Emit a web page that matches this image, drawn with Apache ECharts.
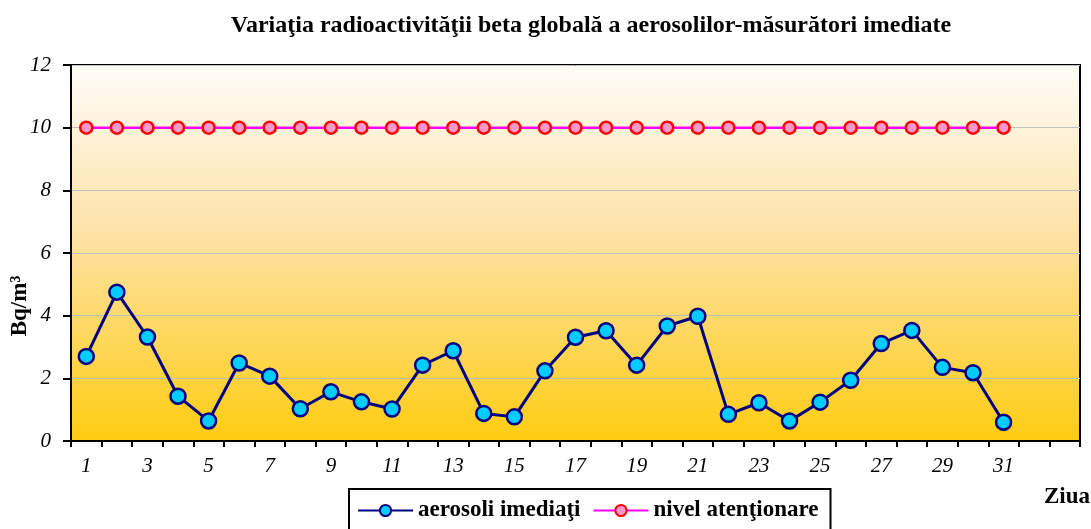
<!DOCTYPE html>
<html><head><meta charset="utf-8">
<script src="https://cdn.jsdelivr.net/npm/echarts@6/dist/echarts.min.js"></script>
<style>html,body{margin:0;padding:0;background:#fff}#c{width:1091px;height:529px}</style>
</head><body><div id="c"></div>
<script>
const days = ['1','2','3','4','5','6','7','8','9','10','11','12','13','14','15','16','17','18','19','20','21','22','23','24','25','26','27','28','29','30','31','',''];
const aerosoli = [2.7,4.75,3.32,1.43,0.64,2.49,2.07,1.03,1.57,1.25,1.02,2.42,2.88,0.88,0.77,2.24,3.31,3.52,2.42,3.67,3.98,0.85,1.22,0.64,1.24,1.94,3.11,3.53,2.35,2.18,0.6];
const nivel = [10,10,10,10,10,10,10,10,10,10,10,10,10,10,10,10,10,10,10,10,10,10,10,10,10,10,10,10,10,10,10];
const yTicks = [0,2,4,6,8,10,12];

const chart = echarts.init(document.getElementById('c'));
const serif = '"Liberation Serif", "Times New Roman", serif';
chart.setOption({
  animation:false,
  title:{text:'Variaţia radioactivităţii beta globală a aerosolilor-măsurători imediate',left:586,textAlign:'center',top:9,
    textStyle:{fontFamily:serif,fontWeight:'bold',fontSize:24,color:'#000'}},
  graphic:[{type:'text',x:20,y:306,rotation:Math.PI/2,
    style:{text:'Bq/m³',align:'center',verticalAlign:'middle',font:'bold 23px "Liberation Serif", serif',fill:'#000'}}],
  grid:{left:71,right:11,top:65,bottom:88,show:true,borderColor:'#000',borderWidth:2,outerBoundsMode:'none',containLabel:false,
    backgroundColor:{type:'linear',x:0,y:0,x2:0,y2:1,colorStops:[{offset:0,color:'#FFFDF8'},{offset:0.45,color:'#FEE2A6'},{offset:1,color:'#FFCC11'}]}},
  legend:{top:489,left:349,padding:[10,12,14,8],borderColor:'#000',borderWidth:2,itemWidth:55,itemHeight:14,itemGap:12,
    textStyle:{fontFamily:serif,fontWeight:'bold',fontSize:23,color:'#000'},
    data:['aerosoli imediaţi','nivel atenţionare']},
  xAxis:{type:'category',data:days,boundaryGap:true,
    axisLine:{lineStyle:{color:'#000',width:2}},
    axisTick:{show:true,interval:0,length:6,lineStyle:{color:'#000',width:2}},
    axisLabel:{interval:1,margin:15,fontFamily:serif,fontStyle:'italic',fontSize:21,color:'#000'},
    name:'Ziua',nameLocation:'end',nameGap:0,
    nameTextStyle:{fontFamily:serif,fontWeight:'bold',fontSize:23,color:'#000',align:'right',verticalAlign:'top',padding:[45,-10,0,0]}},
  yAxis:{type:'value',min:0,max:12,interval:2,
    axisLine:{show:true,lineStyle:{color:'#000',width:2}},
    axisTick:{show:true,length:8,inside:false,lineStyle:{color:'#000',width:2}},
    splitLine:{show:true,lineStyle:{color:'#C0C0C0',width:1}},
    axisLabel:{margin:20,fontFamily:serif,fontStyle:'italic',fontSize:21,color:'#000',
      formatter:v=>yTicks.indexOf(v)>=0?String(v):''}},
  series:[
    {name:'aerosoli imediaţi',type:'line',data:aerosoli,symbol:'circle',symbolSize:15,
      lineStyle:{color:'#000080',width:3},itemStyle:{color:'#00CCFF',borderColor:'#000080',borderWidth:2.5}},
    {name:'nivel atenţionare',type:'line',data:nivel,symbol:'circle',symbolSize:12,
      lineStyle:{color:'#FF00FF',width:2.5},itemStyle:{color:'#FF99CC',borderColor:'#FF0000',borderWidth:2.5}}
  ]
});
</script></body></html>
